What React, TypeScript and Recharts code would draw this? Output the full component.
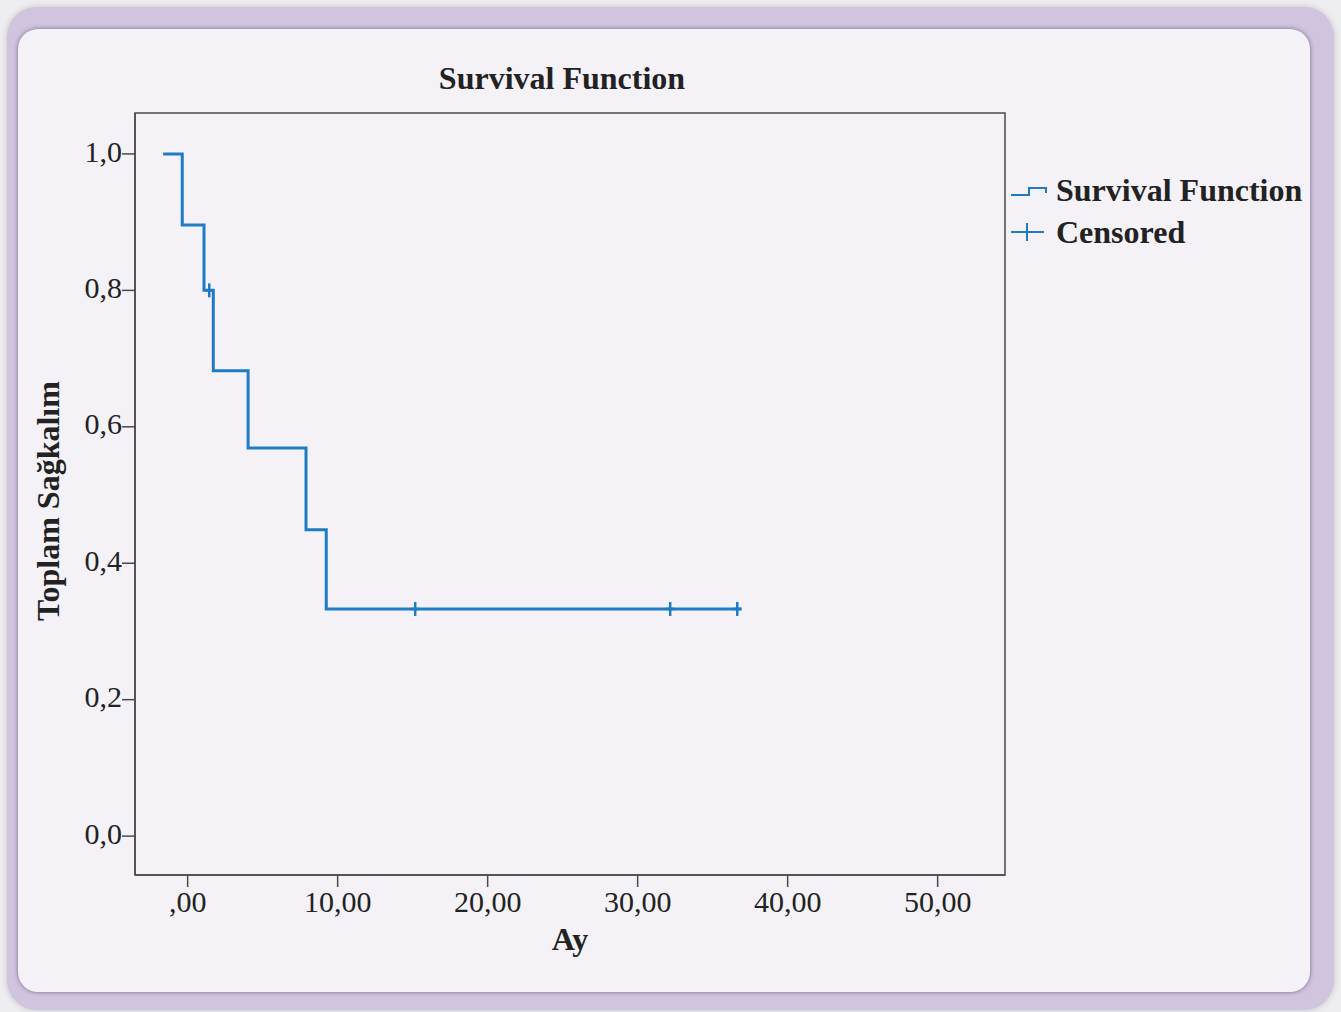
import { ComposedChart, Line, Scatter, XAxis, YAxis, ReferenceArea } from 'recharts';

// Kaplan-Meier steps (months vs. cumulative survival)
const stepMonths = [-1.63, -0.36, 1.09, 1.71, 4.03, 7.89, 9.24, 36.93];
const stepSurvival = [1.0, 0.896, 0.8, 0.682, 0.569, 0.449, 0.333, 0.333];

// censored cases
const censorMonths = [1.44, 15.17, 32.17, 36.64];
const censorSurvival = [0.8, 0.333, 0.333, 0.333];

const xTicks = [0, 10, 20, 30, 40, 50];
const yTicks = [0, 0.2, 0.4, 0.6, 0.8, 1.0];

const stepData = stepMonths.map((t, i) => ({ t, s: stepSurvival[i] }));
const censorData = censorMonths.map((t, i) => ({ t, s: censorSurvival[i] }));

const BLUE = '#1f7bc4';
const INK = '#222';
const AXIS = '#4a4a4a';
const FONT = '"Liberation Serif", "Times New Roman", serif';

const X_MIN = -3.51;
const X_MAX = 54.49;
const Y_MIN = -0.057;
const Y_MAX = 1.06;

const fmtX = (v: number) => (v === 0 ? ',00' : `${v},00`);
const fmtY = (v: number) => v.toFixed(1).replace('.', ',');

const CensorMark = (props: any) => {
  const { cx, cy } = props;
  return (
    <g stroke={BLUE} strokeWidth={2.5}>
      <line x1={cx} x2={cx} y1={cy - 7} y2={cy + 7} />
      <line x1={cx - 4} x2={cx + 4} y1={cy} y2={cy} />
    </g>
  );
};

const LegendBox = () => (
  <div
    style={{
      position: 'absolute',
      left: 1010,
      top: 169,
      fontFamily: FONT,
      fontWeight: 'bold',
      fontSize: 32,
      color: INK,
      whiteSpace: 'nowrap',
    }}
  >
    <div style={{ display: 'flex', alignItems: 'center', height: 42 }}>
      <svg width={46} height={20}>
        <polyline points="1,15 19,15 19,8 36,8 36,13" fill="none" stroke={BLUE} strokeWidth={2} />
      </svg>
      <span>Survival Function</span>
    </div>
    <div style={{ display: 'flex', alignItems: 'center', height: 42 }}>
      <svg width={46} height={20}>
        <line x1={1} x2={34} y1={10} y2={10} stroke={BLUE} strokeWidth={2} />
        <line x1={17} x2={17} y1={1} y2={19} stroke={BLUE} strokeWidth={2} />
      </svg>
      <span>Censored</span>
    </div>
  </div>
);

export default function App() {
  return (
    <div
      style={{
        position: 'absolute',
        left: 0,
        top: 0,
        width: 1341,
        height: 1012,
        background: '#eeeef1',
        overflow: 'hidden',
      }}
    >
      <div
        style={{
          position: 'absolute',
          left: 7,
          top: 7,
          width: 1327,
          height: 1003,
          borderRadius: 30,
          background: '#d0c4df',
          boxShadow: '0 0 6px rgba(0,0,0,0.18)',
        }}
      />
      <div
        style={{
          position: 'absolute',
          left: 18,
          top: 29,
          width: 1292,
          height: 963,
          borderRadius: 20,
          background: '#f4f2f7',
          boxShadow: '0 0 4px rgba(40,30,60,0.55)',
        }}
      />
      <div
        style={{
          position: 'absolute',
          left: 135,
          width: 870,
          top: 60,
          textAlign: 'center',
          fontFamily: FONT,
          fontWeight: 'bold',
          fontSize: 32,
          color: INK,
          paddingRight: 16,
          boxSizing: 'border-box',
        }}
      >
        Survival Function
      </div>
      <div
        style={{
          position: 'absolute',
          left: 48,
          top: 501,
          transform: 'translate(-50%, -50%) rotate(-90deg)',
          whiteSpace: 'nowrap',
          fontFamily: FONT,
          fontWeight: 'bold',
          fontSize: 32,
          color: INK,
        }}
      >
        Toplam Sağkalım
      </div>
      <div style={{ position: 'absolute', left: 0, top: 0 }}>
        <ComposedChart
          width={1341}
          height={1012}
          margin={{ top: 113, right: 336, bottom: 77, left: 35 }}
          style={{ fontFamily: FONT }}
        >
          <XAxis
            type="number"
            dataKey="t"
            domain={[X_MIN, X_MAX]}
            ticks={xTicks}
            tickFormatter={fmtX}
            allowDataOverflow
            height={60}
            tickSize={12}
            tickMargin={4}
            axisLine={{ stroke: AXIS, strokeWidth: 1.5 }}
            tickLine={{ stroke: AXIS, strokeWidth: 1.5 }}
            tick={{ fill: INK, fontSize: 30, fontFamily: FONT }}
            label={{
              value: 'Ay',
              position: 'insideBottom',
              offset: -15,
              fill: INK,
              fontSize: 32,
              fontWeight: 'bold',
              fontFamily: FONT,
            }}
          />
          <YAxis
            type="number"
            dataKey="s"
            domain={[Y_MIN, Y_MAX]}
            ticks={yTicks}
            tickFormatter={fmtY}
            allowDataOverflow
            width={100}
            tickSize={13}
            tickMargin={0}
            axisLine={{ stroke: AXIS, strokeWidth: 1.5 }}
            tickLine={{ stroke: AXIS, strokeWidth: 1.5 }}
            tick={{ fill: INK, fontSize: 30, fontFamily: FONT, dy: -3 }}
          />
          <ReferenceArea
            x1={X_MIN}
            x2={X_MAX}
            y1={Y_MIN}
            y2={Y_MAX}
            fill="none"
            stroke={AXIS}
            strokeWidth={1.5}
            ifOverflow="visible"
          />
          <Line
            data={stepData}
            dataKey="s"
            type="stepAfter"
            stroke={BLUE}
            strokeWidth={3}
            dot={false}
            activeDot={false}
            isAnimationActive={false}
            strokeLinejoin="miter"
            name="Survival Function"
          />
          <Scatter
            data={censorData}
            dataKey="s"
            shape={CensorMark}
            isAnimationActive={false}
            name="Censored"
          />
        </ComposedChart>
      </div>
      <LegendBox />
    </div>
  );
}
